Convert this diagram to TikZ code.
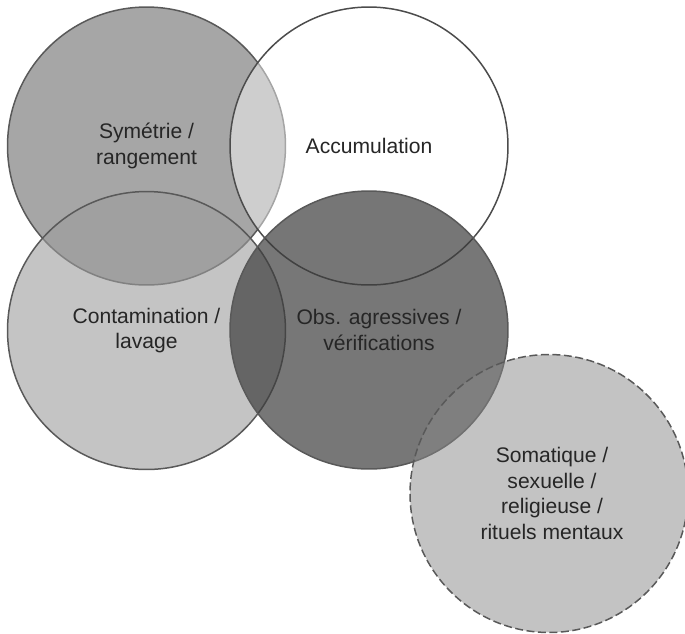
\documentclass[tikz,border=0pt]{standalone}
\usepackage{fontspec}
\setmainfont{Liberation Sans}
\usepackage{tikz}

\begin{document}
\begin{tikzpicture}[
x=0.02cm, y=-0.02cm,
theme/.style={circle, draw=black!65, line width=0.85pt, minimum size=5.56cm, inner sep=0pt},
themetext/.style={align=center, text=black!85, font=\fontsize{12}{14.7}\selectfont}
]
\useasboundingbox (0,0) rectangle (685,633);
%Circles
\node[theme, fill={rgb,255:red,166;green,166;blue,166}]                      (sym)  at (146.5,146)  {};
\node[theme, fill=white, fill opacity=0.46, draw=black!70]                   (acc)  at (369,146)    {};
\node[theme, fill={rgb,255:red,156;green,156;blue,156}, fill opacity=0.6]    (cont) at (146.5,330.5) {};
\node[theme, fill={rgb,255:red,61;green,61;blue,61}, fill opacity=0.7]       (obs)  at (369,330)    {};
\node[theme, fill={rgb,255:red,136;green,136;blue,136}, fill opacity=0.5, dash pattern=on 0.16cm off 0.07cm] (soma) at (549,493.5) {};

%Labels
\node[themetext] (symT)  at (sym)  {Symétrie /\\rangement};
\node[themetext] (accT)  at (acc)  {Accumulation};
\node[themetext] (contT) at (cont) {Contamination /\\lavage};
\node[themetext, xshift=0.2cm] (obsT) at (obs) {Obs. agressives /\\vérifications};
\node[themetext, xshift=0.06cm] (somaT) at (soma) {Somatique /\\sexuelle /\\religieuse /\\rituels mentaux};
\end{tikzpicture}
\end{document}
